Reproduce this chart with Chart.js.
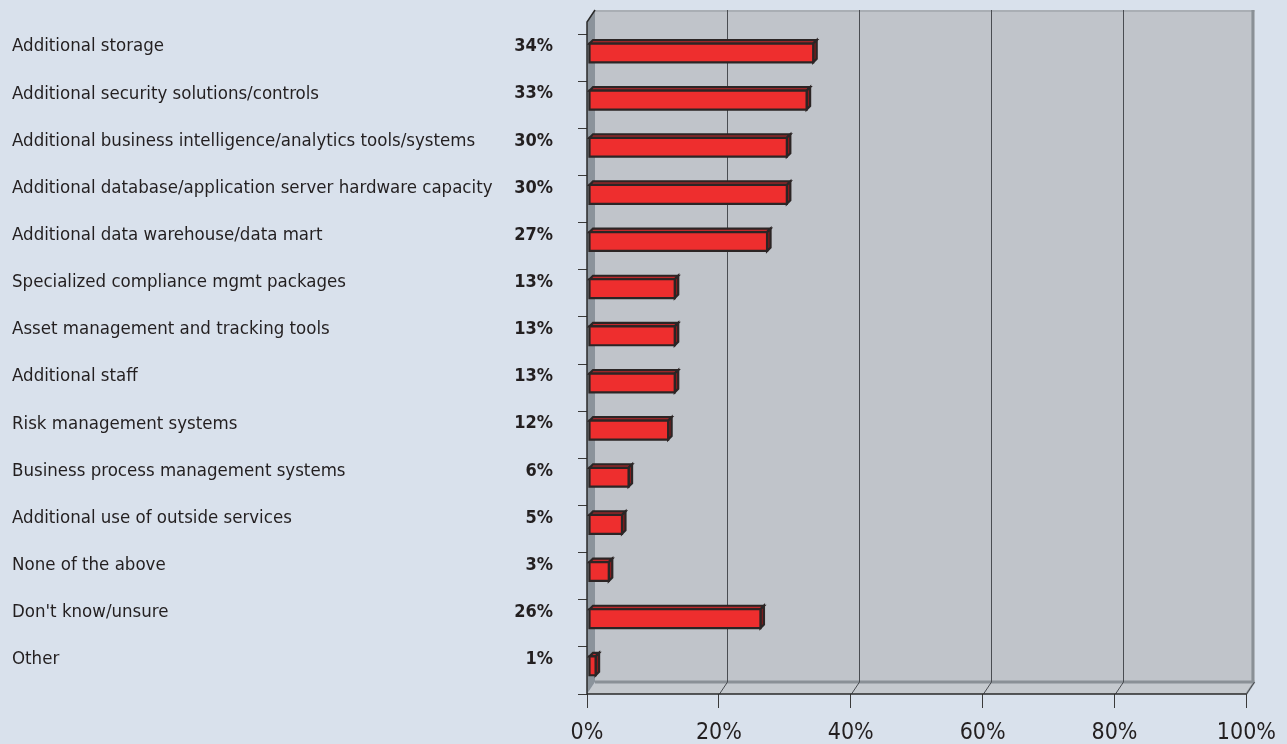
<!DOCTYPE html>
<html><head><meta charset="utf-8">
<script src="https://cdn.jsdelivr.net/npm/chart.js@4"></script>
<style>html,body{margin:0;padding:0;background:#d9e1ec;}#wrap{width:1287px;height:744px;}</style>
</head><body><div id="wrap"><canvas id="c" width="1287" height="744"></canvas></div>
<script>
const categories = [
  "Additional storage",
  "Additional security solutions/controls",
  "Additional business intelligence/analytics tools/systems",
  "Additional database/application server hardware capacity",
  "Additional data warehouse/data mart",
  "Specialized compliance mgmt packages",
  "Asset management and tracking tools",
  "Additional staff",
  "Risk management systems",
  "Business process management systems",
  "Additional use of outside services",
  "None of the above",
  "Don't know/unsure",
  "Other"
];
const values = [34, 33, 30, 30, 27, 13, 13, 13, 12, 6, 5, 3, 26, 1];
const xTickValues = [0, 20, 40, 60, 80, 100];
const xTickLabels = ["0%", "20%", "40%", "60%", "80%", "100%"];

const FONT = "'Liberation Sans Narrow', 'Arial Narrow', 'DejaVu Sans Condensed', sans-serif";
const DEPTH = {x: 8, y: -12};
const BAR_SHIFT = {x: 2, y: -4.6};
const BAR_D = 3.5;
const LABEL_SHIFT = -11;

const wallsPlugin = {
  id: 'walls',
  beforeDatasetsDraw(chart) {
    const ctx = chart.ctx, xs = chart.scales.x, ca = chart.chartArea;
    const x0 = xs.getPixelForValue(0), x1 = xs.getPixelForValue(100);
    const yb = ca.bottom, yt = ca.top - 12;
    const dx = DEPTH.x, dy = DEPTH.y;
    ctx.save();
    // back wall
    ctx.fillStyle = '#c0c4ca';
    ctx.fillRect(x0 + dx, yt + dy, x1 - x0, yb - yt);
    // floor
    ctx.fillStyle = '#c5c9ce';
    ctx.beginPath();
    ctx.moveTo(x0, yb); ctx.lineTo(x0 + dx, yb + dy); ctx.lineTo(x1 + dx, yb + dy); ctx.lineTo(x1, yb);
    ctx.closePath(); ctx.fill();
    // left wall
    ctx.fillStyle = '#8b939b';
    ctx.beginPath();
    ctx.moveTo(x0, yt); ctx.lineTo(x0 + dx, yt + dy); ctx.lineTo(x0 + dx, yb + dy); ctx.lineTo(x0, yb);
    ctx.closePath(); ctx.fill();
    // back wall edges
    ctx.strokeStyle = '#a9aeb4'; ctx.lineWidth = 2;
    ctx.beginPath(); ctx.moveTo(x0 + dx, yt + dy + 1); ctx.lineTo(x1 + dx, yt + dy + 1); ctx.stroke();
    ctx.strokeStyle = '#8a9096'; ctx.lineWidth = 3;
    ctx.beginPath(); ctx.moveTo(x1 + dx - 1.5, yt + dy); ctx.lineTo(x1 + dx - 1.5, yb + dy); ctx.stroke();
    ctx.beginPath(); ctx.moveTo(x0 + dx, yb + dy); ctx.lineTo(x1 + dx, yb + dy); ctx.stroke();
    // floor right edge
    ctx.lineWidth = 2;
    ctx.beginPath(); ctx.moveTo(x1, yb); ctx.lineTo(x1 + dx, yb + dy); ctx.stroke();
    // gridlines on back wall + floor
    ctx.strokeStyle = '#4a4d52'; ctx.lineWidth = 1;
    xTickValues.forEach((v, i) => {
      const px = Math.round(xs.getPixelForValue(v)) + 0.5;
      ctx.beginPath();
      if (i > 0 && i < xTickValues.length - 1) {
        ctx.moveTo(px + dx, yt + dy); ctx.lineTo(px + dx, yb + dy);
      }
      if (i > 0) { ctx.moveTo(px + dx, yb + dy); ctx.lineTo(px, yb); }
      ctx.stroke();
    });
    // front edges
    ctx.strokeStyle = '#2a2a2a'; ctx.lineWidth = 1.5;
    ctx.beginPath();
    ctx.moveTo(x0 + dx, yt + dy); ctx.lineTo(x0, yt); ctx.lineTo(x0, yb); ctx.lineTo(x1, yb);
    ctx.stroke();
    ctx.restore();
  },
  afterDatasetsDraw(chart) {
    const ctx = chart.ctx, ys = chart.scales.y;
    const meta = chart.getDatasetMeta(0);
    ctx.save();
    ctx.lineJoin = 'miter';
    meta.data.forEach((el, i) => {
      const p = el.getProps(['x', 'y', 'base', 'height'], true);
      const l = p.base + BAR_SHIFT.x, r = p.x + BAR_SHIFT.x;
      const t = p.y - p.height / 2 + BAR_SHIFT.y, b = p.y + p.height / 2 + BAR_SHIFT.y;
      const d = BAR_D;
      ctx.strokeStyle = '#2b2525'; ctx.lineWidth = 2.2;
      // top face
      ctx.fillStyle = '#c2282b';
      ctx.beginPath(); ctx.moveTo(l, t); ctx.lineTo(l + d, t - d); ctx.lineTo(r + d, t - d); ctx.lineTo(r, t); ctx.closePath();
      ctx.fill(); ctx.stroke();
      // side face
      ctx.fillStyle = '#861b1d';
      ctx.beginPath(); ctx.moveTo(r, t); ctx.lineTo(r + d, t - d); ctx.lineTo(r + d, b - d); ctx.lineTo(r, b); ctx.closePath();
      ctx.fill(); ctx.stroke();
      // front face
      ctx.fillStyle = '#ee2e2e';
      ctx.beginPath(); ctx.rect(l, t, r - l, b - t); ctx.fill(); ctx.stroke();
    });
    // value labels
    ctx.fillStyle = '#231f20';
    ctx.font = 'bold 18px ' + FONT;
    ctx.textAlign = 'right'; ctx.textBaseline = 'middle';
    values.forEach((v, i) => {
      ctx.fillText(v + '%', 553, ys.getPixelForValue(i) + LABEL_SHIFT);
    });
    ctx.restore();
  }
};

new Chart(document.getElementById('c'), {
  type: 'bar',
  data: {
    labels: categories,
    datasets: [{
      data: values,
      backgroundColor: 'rgba(0,0,0,0)',
      borderWidth: 0,
      barPercentage: 0.40,
      categoryPercentage: 1
    }]
  },
  options: {
    indexAxis: 'y',
    responsive: false,
    animation: false,
    devicePixelRatio: 1,
    layout: {padding: {left: 12, right: 39, top: 34, bottom: 0}},
    plugins: {legend: {display: false}, tooltip: {enabled: false}, title: {display: false}},
    scales: {
      y: {
        type: 'category',
        position: 'left',
        offset: true,
        grid: {display: true, offset: true, drawOnChartArea: false, drawTicks: true, tickLength: 9, color: '#3a3a3a', lineWidth: 1},
        border: {display: false},
        ticks: {crossAlign: 'far', labelOffset: LABEL_SHIFT, padding: 0, color: '#231f20', font: {family: FONT, size: 18.5}},
        afterFit(s) { s.width = 575; }
      },
      x: {
        type: 'linear',
        position: 'bottom',
        min: 0, max: 100,
        afterBuildTicks(s) { s.ticks = xTickValues.map(v => ({value: v})); },
        grid: {display: true, drawOnChartArea: false, drawTicks: true, tickLength: 14, color: '#3a3a3a', lineWidth: 1},
        border: {display: false},
        ticks: {
          padding: 11, color: '#231f20', maxRotation: 0, autoSkip: false,
          font: {family: FONT, size: 23},
          callback: (v) => xTickLabels[xTickValues.indexOf(v)]
        },
        afterFit(s) { s.height = 50; }
      }
    }
  },
  plugins: [wallsPlugin]
});
</script>
</body></html>
